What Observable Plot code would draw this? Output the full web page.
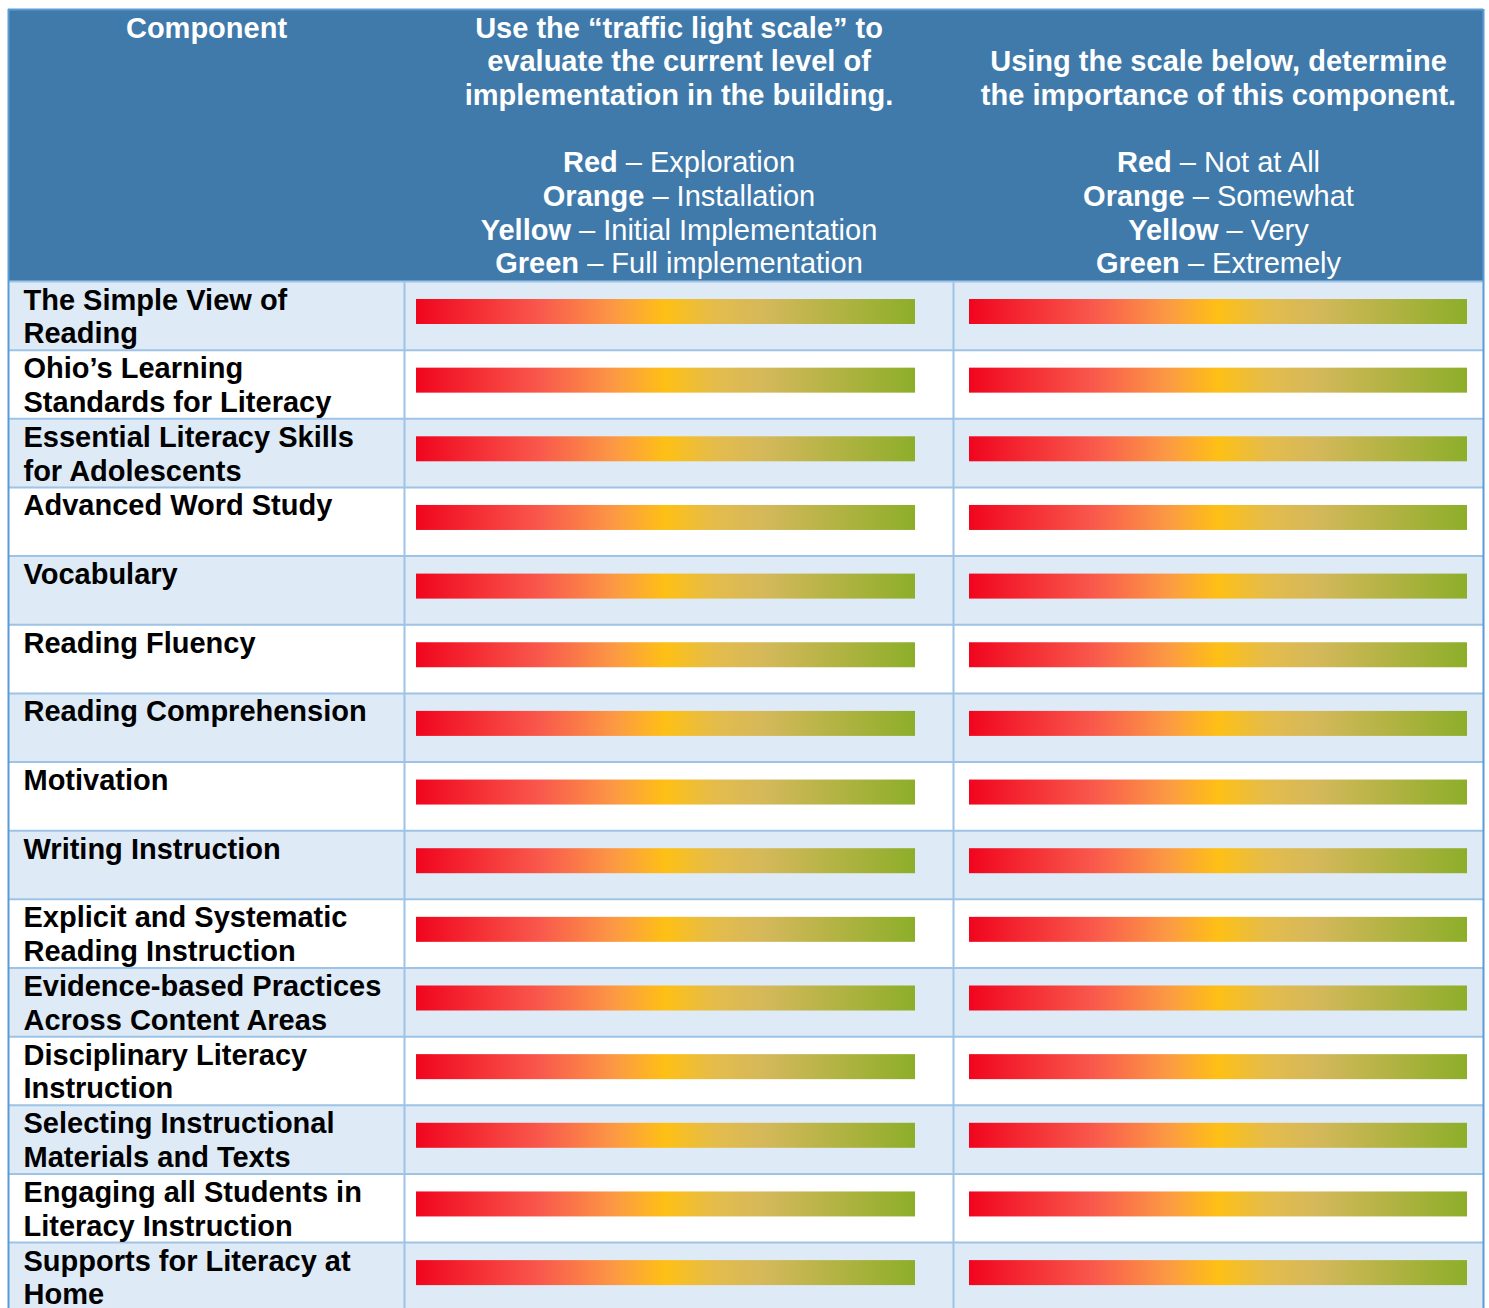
<!DOCTYPE html>
<html>
<head>
<meta charset="utf-8">
<script src="https://cdn.jsdelivr.net/npm/d3@7"></script>
<script src="https://cdn.jsdelivr.net/npm/@observablehq/plot@0.6"></script>
<style>
  html, body { margin: 0; padding: 0; background: #ffffff; }
  #chart svg { display: block; }
</style>
</head>
<body>
<div id="chart"></div>
<script>
// ---------------- DATA ----------------
const components = [
  "The Simple View of\nReading",
  "Ohio’s Learning\nStandards for Literacy",
  "Essential Literacy Skills\nfor Adolescents",
  "Advanced Word Study",
  "Vocabulary",
  "Reading Fluency",
  "Reading Comprehension",
  "Motivation",
  "Writing Instruction",
  "Explicit and Systematic\nReading Instruction",
  "Evidence-based Practices\nAcross Content Areas",
  "Disciplinary Literacy\nInstruction",
  "Selecting Instructional\nMaterials and Texts",
  "Engaging all Students in\nLiteracy Instruction",
  "Supports for Literacy at\nHome"
];
const componentHeader = "Component";
const implementationHeader = [
  "Use the “traffic light scale” to",
  "evaluate the current level of",
  "implementation in the building."
];
const importanceHeader = [
  "Using the scale below, determine",
  "the importance of this component."
];
const scaleColors = ["Red", "Orange", "Yellow", "Green"];
const implementationLevels = ["Exploration", "Installation", "Initial Implementation", "Full implementation"];
const importanceLevels = ["Not at All", "Somewhat", "Very", "Extremely"];
// each bar spans the whole scale, from its lowest level to its highest
const scaleRange = [0, 1];

// ---------------- LAYOUT & STYLE ----------------
const W = 1489, H = 1308;
const colEdges = [8, 404, 953, 1483];
const headerTop = 9, headerBottom = 281, rowH = 68.65;
const fontSize = 29, lineH = 33.7, firstBaseline = 37;
const labelX = 23, labelBaseline = 28;
const barTop = 18, barHeight = 25;
const barInsets = [null, {left: 12, right: 38}, {left: 16, right: 16}];
const headerFill = "#3F7AAB", bandFill = "#DEEAF6", gridColor = "#9DC3E6", outerColor = "#5B9BD5";
const gradientStops = [
  [0, "#F0051E"], [0.25, "#F9594C"], [0.4, "#FC9A44"], [0.5, "#FEC015"],
  [0.6, "#E4BC4C"], [0.7, "#D4B85A"], [1, "#8DAE2A"]
];
const font = "'Liberation Sans', Arial, Helvetica, sans-serif";
const SEP = " – ";

// ---------------- DERIVED TABLES ----------------
const rows = components.map((c, i) => ({
  row: i,
  y1: headerBottom + i * rowH,
  y2: headerBottom + (i + 1) * rowH
}));
const labelLines = rows.flatMap(r =>
  components[r.row].split("\n").map((t, k) => ({text: t, y: r.y1 + labelBaseline + k * lineH}))
);
const bars = rows.flatMap(r => [1, 2].map(col => {
  const inner = d3.scaleLinear().domain(scaleRange)
    .range([colEdges[col] + barInsets[col].left, colEdges[col + 1] - barInsets[col].right]);
  return {row: r.row, col, x1: inner(scaleRange[0]), x2: inner(scaleRange[1]), y1: r.y1 + barTop, y2: r.y1 + barTop + barHeight};
}));
const colCenter = c => (colEdges[c] + colEdges[c + 1]) / 2;
const baseline = k => firstBaseline + k * lineH;
const headerLines = [
  {text: componentHeader, x: colCenter(0), y: baseline(0)},
  ...implementationHeader.map((t, k) => ({text: t, x: colCenter(1), y: baseline(k)})),
  ...importanceHeader.map((t, k) => ({text: t, x: colCenter(2), y: baseline(k + 1)}))
];
const legendLines = [
  ...scaleColors.map((c, k) => ({text: c + SEP + implementationLevels[k], x: colCenter(1), y: baseline(k + 4)})),
  ...scaleColors.map((c, k) => ({text: c + SEP + importanceLevels[k], x: colCenter(2), y: baseline(k + 4)}))
];
const hLines = [headerBottom, ...rows.map(r => r.y2)];

// ---------------- PLOT ----------------
const svg = Plot.plot({
  width: W,
  height: H,
  margin: 0,
  x: {domain: [0, W], range: [0, W], axis: null},
  y: {domain: [0, H], range: [0, H], axis: null},
  style: {fontFamily: font, background: "#ffffff"},
  marks: [
    Plot.rect([0], {x1: colEdges[0], x2: colEdges[3], y1: headerTop, y2: headerBottom, fill: headerFill}),
    Plot.rect(rows.filter(r => r.row % 2 === 0), {x1: colEdges[0], x2: colEdges[3], y1: "y1", y2: "y2", fill: bandFill}),
    Plot.ruleY(hLines, {y: d => d, x1: colEdges[0], x2: colEdges[3], stroke: gridColor, strokeWidth: 2}),
    Plot.ruleX([colEdges[1], colEdges[2]], {x: d => d, y1: headerBottom, y2: H, stroke: gridColor, strokeWidth: 2}),
    Plot.ruleX([colEdges[0], colEdges[3]], {x: d => d, y1: headerTop, y2: H, stroke: outerColor, strokeWidth: 2}),
    Plot.ruleY([headerTop], {y: d => d, x1: colEdges[0], x2: colEdges[3], stroke: outerColor, strokeWidth: 2}),
    Plot.rect(bars, {x1: "x1", x2: "x2", y1: "y1", y2: "y2", fill: "url(#trafficLight)"}),
    Plot.text(labelLines, {x: labelX, y: "y", text: "text", textAnchor: "start", lineAnchor: "bottom",
      fontSize, fontWeight: "bold", fill: "#000000"}),
    Plot.text(headerLines, {x: "x", y: "y", text: "text", textAnchor: "middle", lineAnchor: "bottom",
      fontSize, fontWeight: "bold", fill: "#ffffff"}),
    Plot.text(legendLines, {x: "x", y: "y", text: "text", textAnchor: "middle", lineAnchor: "bottom",
      fontSize, fontWeight: "normal", fill: "#ffffff"})
  ]
});

// gradient definition for the traffic-light bars
const ns = "http://www.w3.org/2000/svg";
const defs = document.createElementNS(ns, "defs");
const lg = document.createElementNS(ns, "linearGradient");
lg.setAttribute("id", "trafficLight");
lg.setAttribute("x1", "0"); lg.setAttribute("x2", "1");
lg.setAttribute("y1", "0"); lg.setAttribute("y2", "0");
for (const [o, c] of gradientStops) {
  const s = document.createElementNS(ns, "stop");
  s.setAttribute("offset", o);
  s.setAttribute("stop-color", c);
  lg.appendChild(s);
}
defs.appendChild(lg);
svg.insertBefore(defs, svg.firstChild);

// bold colour name, regular level description
svg.querySelectorAll("text").forEach(t => {
  const full = t.textContent;
  const i = full.indexOf(SEP);
  if (i < 0) return;
  while (t.firstChild) t.removeChild(t.firstChild);
  const b = document.createElementNS(ns, "tspan");
  b.setAttribute("style", "font-weight: bold");
  b.textContent = full.slice(0, i);
  const r = document.createElementNS(ns, "tspan");
  r.setAttribute("style", "font-weight: normal");
  r.textContent = full.slice(i);
  t.appendChild(b);
  t.appendChild(r);
});

document.getElementById("chart").appendChild(svg);
</script>
</body>
</html>
